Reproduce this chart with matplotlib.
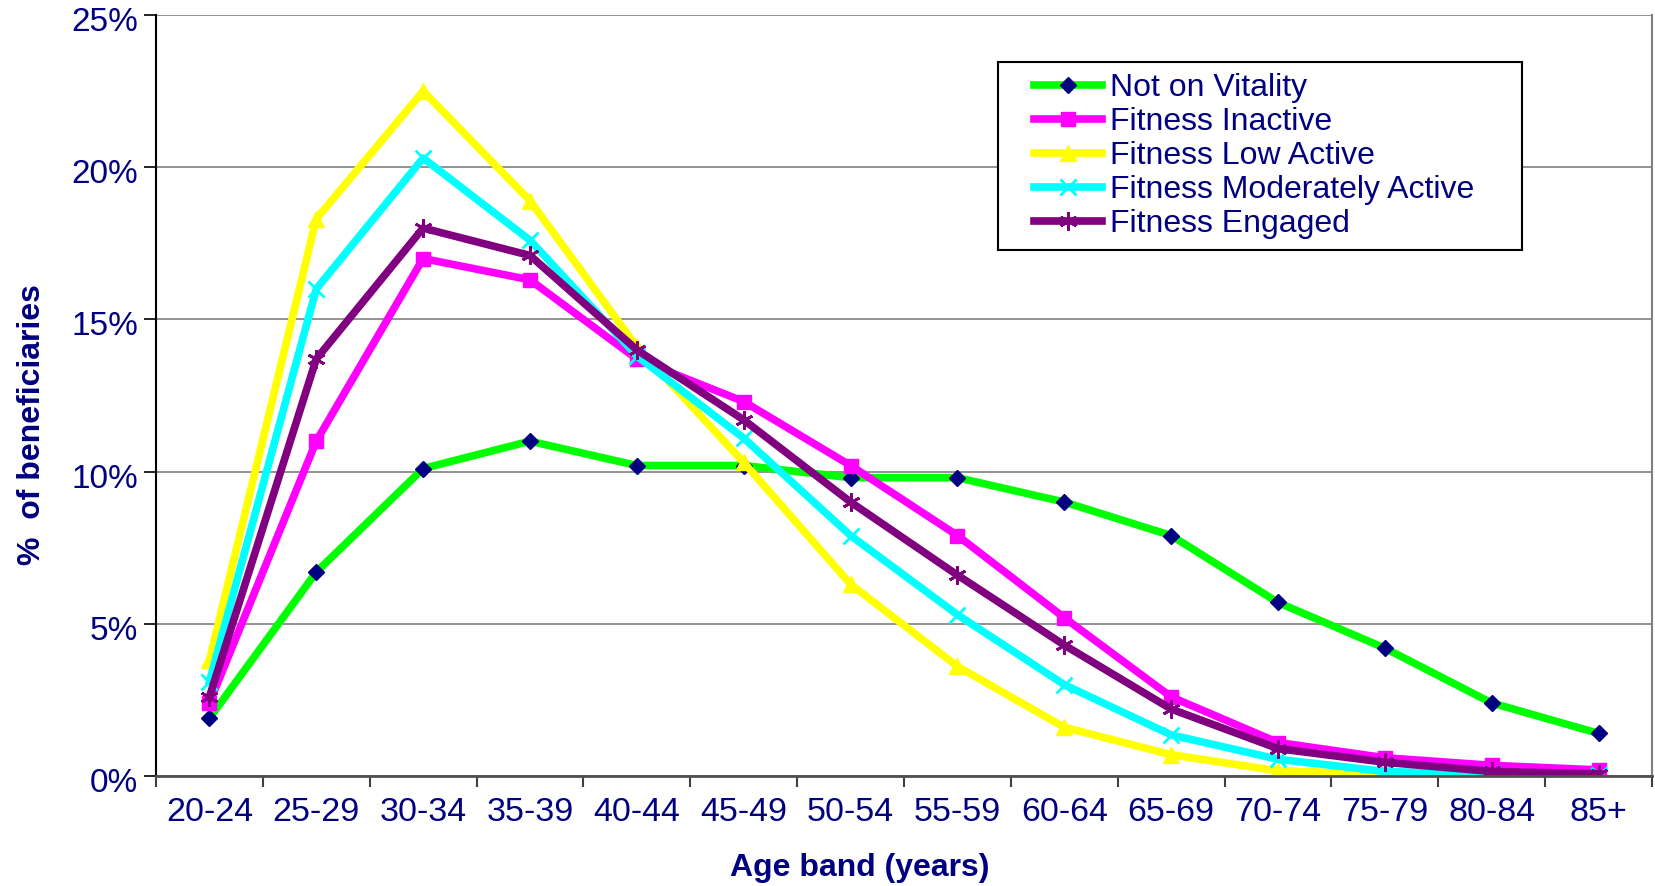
import matplotlib
matplotlib.use("Agg")
from matplotlib import pyplot as plt
from matplotlib.ticker import FixedLocator, PercentFormatter
from matplotlib.legend_handler import HandlerLine2D
from matplotlib.transforms import ScaledTranslation

plt.rcParams['font.family'] = ['Liberation Sans', 'DejaVu Sans']

age_bands = ['20-24', '25-29', '30-34', '35-39', '40-44', '45-49', '50-54',
             '55-59', '60-64', '65-69', '70-74', '75-79', '80-84', '85+']

not_on_vitality = [1.9, 6.7, 10.1, 11.0, 10.2, 10.2, 9.8, 9.8, 9.0, 7.9, 5.7, 4.2, 2.4, 1.4]
fitness_inactive = [2.4, 11.0, 17.0, 16.3, 13.7, 12.3, 10.2, 7.9, 5.2, 2.6, 1.1, 0.6, 0.35, 0.2]
fitness_low = [3.8, 18.3, 22.5, 18.9, 14.1, 10.3, 6.3, 3.6, 1.6, 0.7, 0.17, 0.06, 0.03, 0.01]
fitness_moderate = [3.1, 16.0, 20.3, 17.6, 13.8, 11.1, 7.9, 5.3, 3.0, 1.35, 0.55, 0.15, 0.05, 0.03]
fitness_engaged = [2.6, 13.7, 18.0, 17.1, 14.0, 11.7, 9.0, 6.6, 4.3, 2.2, 0.9, 0.45, 0.15, 0.07]

navy = '#000080'


class ShiftedLine(HandlerLine2D):
    # leaves some empty room left of the legend line, like Excel does
    def create_artists(self, legend, orig_handle, xdescent, ydescent, width,
                       height, fontsize, trans):
        shift = 0.26 * width
        return super().create_artists(legend, orig_handle, xdescent - shift,
                                      ydescent, width - shift, height,
                                      fontsize, trans)


fig = plt.figure(figsize=(16.55, 8.86), dpi=100)
ax = fig.add_axes([156 / 1655, 1 - 776 / 886, 1496 / 1655, 761 / 886])

x = list(range(len(age_bands)))
lw = 5.5
# series drawn in legend order, last one on top
ax.plot(x, not_on_vitality, color='#00FF00', lw=lw, marker='D', ms=8,
        mfc=navy, mec=navy, label='Not on Vitality')
ax.plot(x, fitness_inactive, color='#FF00FF', lw=lw, marker='s', ms=10,
        mfc='#FF00FF', mec='#FF00FF', label='Fitness Inactive')
ax.plot(x, fitness_low, color='#FFFF00', lw=lw, marker='^', ms=12,
        mfc='#FFFF00', mec='#FFFF00', label='Fitness Low Active')
ax.plot(x, fitness_moderate, color='#00FFFF', lw=lw, marker='x', ms=11, mew=2,
        mec='#00FFFF', label='Fitness Moderately Active')
ax.plot(x, fitness_engaged, color='#800080', lw=lw, marker=(6, 2, 0), ms=13, mew=2,
        mec='#800080', label='Fitness Engaged')

ax.set_xlim(-0.5, len(age_bands) - 0.5)
ax.set_ylim(0, 25)
ax.yaxis.set_major_locator(FixedLocator([0, 5, 10, 15, 20, 25]))
ax.yaxis.set_major_formatter(PercentFormatter(decimals=0))
ax.yaxis.grid(True, color='#808080', lw=1.2)
ax.set_axisbelow(True)

# ticks between bands, labels at band centres
ax.set_xticks([i - 0.5 for i in range(len(age_bands) + 1)])
ax.set_xticklabels([])
ax.set_xticks(x, minor=True)
ax.set_xticklabels(age_bands, minor=True)
ax.tick_params(axis='x', which='major', length=8, width=1.5, color='#404040', direction='out')
ax.tick_params(axis='x', which='minor', length=0, pad=15, labelsize=24.5, labelcolor=navy)
ax.tick_params(axis='y', length=9, width=1.2, direction='out', pad=4,
               labelsize=24, labelcolor=navy)
# percent labels sit a little below their gridline in the original
nudge = ScaledTranslation(0, -4 / 100, fig.dpi_scale_trans)
for lab in ax.get_yticklabels():
    lab.set_transform(lab.get_transform() + nudge)

ax.spines['top'].set_visible(False)
ax.spines['right'].set_color('#808080')
ax.spines['right'].set_linewidth(1.5)
ax.spines['bottom'].set_color('#505050')
ax.spines['bottom'].set_linewidth(2)
ax.spines['left'].set_color('black')
ax.spines['left'].set_linewidth(1.5)

fig.text(32 / 1655, 1 - 425 / 886, '%  of beneficiaries', rotation=90, ha='center',
         va='center', fontsize=23, fontweight='bold', color=navy)
fig.text(860 / 1655, 1 - 868 / 886, 'Age band (years)', ha='center', va='center',
         fontsize=23, fontweight='bold', color=navy)

leg = ax.legend(loc='upper left', bbox_to_anchor=(0.563, 0.938, 0.35, 0.0),
                mode='expand', fontsize=23,
                frameon=True, fancybox=False, edgecolor='black', framealpha=1,
                labelspacing=0.12, handlelength=2.9, handletextpad=0.25,
                borderpad=0.35, borderaxespad=0,
                handler_map={matplotlib.lines.Line2D: ShiftedLine()})
leg.get_frame().set_linewidth(1.5)
for t in leg.get_texts():
    t.set_color(navy)

fig.savefig('out.png', dpi=100)
